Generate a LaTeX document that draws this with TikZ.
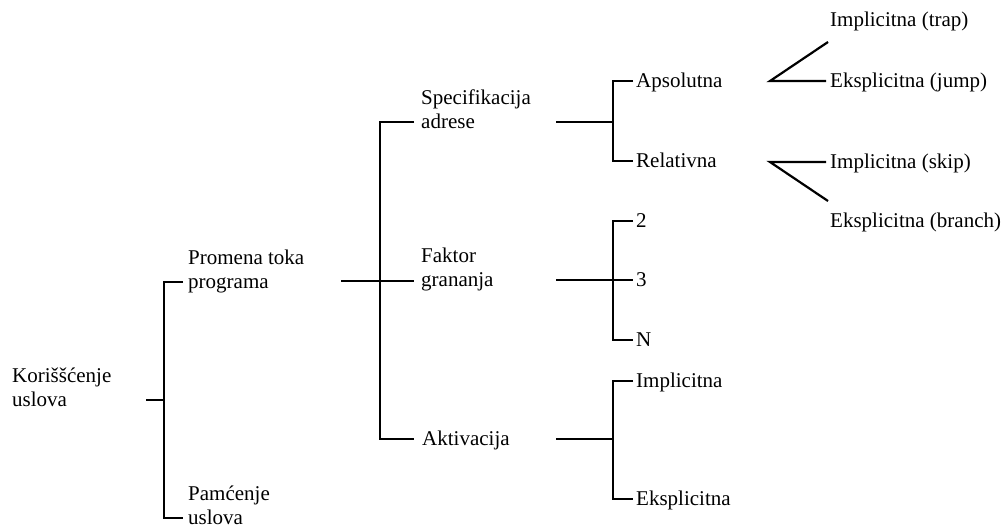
\documentclass[tikz,border=0pt]{standalone}
\usepackage{fontspec}
\setmainfont{Liberation Serif}
\begin{document}
\begin{tikzpicture}[x=1pt,y=-1pt,
  lbl/.style={anchor=base west,inner sep=0pt,align=left,font=\fontsize{21}{23.5}\selectfont},
  conn/.style={line width=2.2pt,line cap=butt,line join=miter}]
\useasboundingbox (0,0) rectangle (1007,528);
% texts
\node[lbl] (kor) at (12,406) {Koriššćenje\\uslova};
\node[lbl] (prom) at (188,288) {Promena toka\\programa};
\node[lbl] (pam) at (188,524) {Pamćenje\\uslova};
\node[lbl] (spec) at (421,128) {Specifikacija\\adrese};
\node[lbl] (fak) at (421,286) {Faktor\\grananja};
\node[lbl] (akt) at (422,445) {Aktivacija};
\node[lbl] (aps) at (636,87) {Apsolutna};
\node[lbl] (rel) at (636,167) {Relativna};
\node[lbl] (d2) at (636,227) {2};
\node[lbl] (d3) at (636,286) {3};
\node[lbl] (dn) at (636,346) {N};
\node[lbl] (impl) at (636,387) {Implicitna};
\node[lbl] (ekspl) at (636,505) {Eksplicitna};
\node[lbl] (trap) at (830,26) {Implicitna (trap)};
\node[lbl] (jump) at (830,87) {Eksplicitna (jump)};
\node[lbl] (skip) at (830,168) {Implicitna (skip)};
\node[lbl] (branch) at (830,227) {Eksplicitna (branch)};
% coordinates
\coordinate (s0) at (146,400); \coordinate (j0) at (164,400);
\coordinate (e0a) at (183,282); \coordinate (e0b) at (183,518);
\coordinate (s1) at (341,281); \coordinate (j1) at (380,281);
\coordinate (e1a) at (414,122); \coordinate (e1b) at (414,281); \coordinate (e1c) at (414,439);
\coordinate (s2a) at (556,122); \coordinate (j2a) at (613,122);
\coordinate (e2a) at (633,81); \coordinate (e2b) at (633,161);
\coordinate (s2b) at (556,280); \coordinate (j2b) at (613,280);
\coordinate (e2c) at (633,221); \coordinate (e2d) at (633,280); \coordinate (e2e) at (633,340);
\coordinate (s2c) at (556,439); \coordinate (j2c) at (613,439);
\coordinate (e2f) at (633,381); \coordinate (e2g) at (633,499);
\coordinate (r1) at (770,81); \coordinate (f1a) at (828,42); \coordinate (f1b) at (826,81);
\coordinate (r2) at (770,162); \coordinate (f2a) at (826,162); \coordinate (f2b) at (828,201);
% connectors
\draw[conn] (s0) -- (j0);
\draw[conn] (e0a) -| (j0) |- (e0b);
\draw[conn] (s1) -- (e1b);
\draw[conn] (e1a) -| (j1) |- (e1c);
\draw[conn] (s2a) -- (j2a);
\draw[conn] (e2a) -| (j2a) |- (e2b);
\draw[conn] (s2b) -- (e2d);
\draw[conn] (e2c) -| (j2b) |- (e2e);
\draw[conn] (s2c) -- (j2c);
\draw[conn] (e2f) -| (j2c) |- (e2g);
\draw[conn] (f1a) -- (r1) -- (f1b);
\draw[conn] (f2a) -- (r2) -- (f2b);
\end{tikzpicture}
\end{document}
